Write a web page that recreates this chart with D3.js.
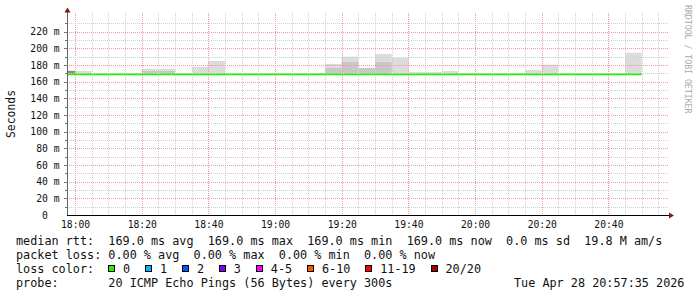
<!DOCTYPE html>
<html>
<head>
<meta charset="utf-8">
<style>
body{margin:0;background:#fff;}
text{font-family:"DejaVu Sans Mono",monospace;white-space:pre;}
</style>
</head>
<body>
<div id="chart"></div>
<script src="https://d3js.org/d3.v7.min.js"></script>
<script>
// 5 minute steps, values in ms
var binStarts = ["17:55","18:00","18:05","18:10","18:15","18:20","18:25","18:30","18:35","18:40",
  "18:45","18:50","18:55","19:00","19:05","19:10","19:15","19:20","19:25","19:30",
  "19:35","19:40","19:45","19:50","19:55","20:00","20:05","20:10","20:15","20:20",
  "20:25","20:30","20:35","20:40","20:45"];
var medians = [169,169,169,169,169,169,169,169,169,169,
  169,169,169,169,169,169,169,169,169,169,
  169,169,169,169,169,169,169,169,169,169,
  169,169,169,169,169];
var smokeHi = [173.6,172.8,null,null,null,175.2,175.2,null,177.6,184.8,
  null,null,null,null,null,null,181.2,190,176.4,193.2,
  188.4,171.6,171.6,172.8,null,null,null,null,174,180.4,
  null,null,null,null,194.8];
var smokeMid = [172.8,null,null,null,null,172.8,172.8,null,null,null,
  null,null,null,null,null,null,176.4,183.6,176.4,183.6,
  null,null,null,null,null,null,null,null,null,null,
  null,null,null,null,null];
var smokeDark = [172.8,null,null,null,null,null,null,null,null,null,
  null,null,null,null,null,null,null,null,null,null,
  null,null,null,null,null,null,null,null,null,null,
  null,null,null,null,null];
var yTicks = [0,20,40,60,80,100,120,140,160,180,200,220];
var xTicks = ["18:00","18:20","18:40","19:00","19:20","19:40","20:00","20:20","20:40"];
var lossLabels = ["0","1","2","3","4-5","6-10","11-19","20/20"];
var lossColors = ["#28f000","#00b8ff","#0059ff","#7e00ff","#ff00ff","#ff5500","#ff0000","#a10000"];
var statLines = [
  "median rtt:  169.0 ms avg  169.0 ms max  169.0 ms min  169.0 ms now  0.0 ms sd  19.8 M am/s",
  "packet loss: 0.00 % avg  0.00 % max  0.00 % min  0.00 % now",
  "loss color:",
  "probe:       20 ICMP Echo Pings (56 Bytes) every 300s"
];
var dateLabel = "Tue Apr 28 20:57:35 2026";

var W = 697, H = 297;
var gLeft = 67, gRight = 667, gTop = 15, gBottom = 215;
var parse = d3.timeParse("%H:%M");
var parseS = d3.timeParse("%H:%M:%S");

var svg = d3.select("#chart").append("svg").attr("width", W).attr("height", H);
svg.append("rect").attr("width", W).attr("height", H).attr("fill", "#fff");

var x = d3.scaleTime()
  .domain([parseS("17:57:35"), parseS("20:57:35")])
  .range([gLeft, gRight]);
var y = d3.scaleLinear().domain([0, 240]).range([gBottom, gTop]);

svg.append("clipPath").attr("id", "clip")
  .append("rect").attr("x", gLeft).attr("y", gTop).attr("width", gRight - gLeft).attr("height", gBottom - gTop);

var plot = svg.append("g").attr("clip-path", "url(#clip)");

// smoke
function smokeLayer(vals, color){
  plot.selectAll(null).data(binStarts.map(function(b, i){ return {t: parse(b), hi: vals[i], lo: medians[i]}; })
      .filter(function(d){ return d.hi != null; }))
    .enter().append("rect")
    .attr("x", function(d){ return x(d.t); })
    .attr("width", function(d){ return x(d3.timeMinute.offset(d.t, 5)) - x(d.t); })
    .attr("y", function(d){ return y(d.hi); })
    .attr("height", function(d){ return y(d.lo) - y(d.hi); })
    .attr("fill", color);
}
smokeLayer(smokeHi, "#dcdcdc");
smokeLayer(smokeMid, "#c8c8c8");
smokeLayer(smokeDark, "#8a8a8a");

// grid
var grid = svg.append("g");
x.ticks(d3.timeMinute.every(5)).forEach(function(t){
  var major = t.getMinutes() % 20 == 0;
  grid.append("line")
    .attr("x1", Math.round(x(t)) + 0.5).attr("x2", Math.round(x(t)) + 0.5)
    .attr("y1", 13).attr("y2", gBottom)
    .attr("stroke", major ? "#eb9b9b" : "#cfcfcf")
    .attr("stroke-dasharray", "1,1");
});
d3.range(10, 240, 10).forEach(function(v){
  var major = v % 20 == 0;
  grid.append("line")
    .attr("x1", gLeft).attr("x2", 669)
    .attr("y1", Math.round(y(v)) + 0.5).attr("y2", Math.round(y(v)) + 0.5)
    .attr("stroke", major ? "#eb9b9b" : "#cfcfcf")
    .attr("stroke-dasharray", "1,1");
  svg.append("line")
    .attr("x1", major ? 64 : 65).attr("x2", gLeft)
    .attr("y1", Math.round(y(v)) + 0.5).attr("y2", Math.round(y(v)) + 0.5)
    .attr("stroke", "#777");
});

// median line
var medPts = binStarts.map(function(b, i){ return [parse(b), medians[i]]; });
medPts.push([d3.timeMinute.offset(parse(binStarts[binStarts.length - 1]), 5), medians[medians.length - 1]]);
plot.append("path")
  .attr("d", d3.line().curve(d3.curveStepAfter)
    .x(function(d){ return x(d[0]); })
    .y(function(d){ return y(d[1]); })(medPts))
  .attr("fill", "none")
  .attr("stroke", lossColors[0])
  .attr("stroke-width", 2);

// axes lines + arrows
svg.append("line").attr("x1", gLeft + 0.5).attr("x2", gLeft + 0.5).attr("y1", 12).attr("y2", gBottom + 0.5)
  .attr("stroke", "#666");
svg.append("line").attr("x1", gLeft).attr("x2", 670).attr("y1", gBottom + 0.5).attr("y2", gBottom + 0.5)
  .attr("stroke", "#000");
svg.append("path").attr("d", "M64.5,12.5 L70.5,12.5 L67.5,7.5 Z").attr("fill", "#7f1b1b");
svg.append("path").attr("d", "M669,212.5 L669,218.5 L674,215.5 Z").attr("fill", "#7f1b1b");

// tick labels
var yAxis = svg.append("g").attr("transform", "translate(" + gLeft + ",0)")
  .call(d3.axisLeft(y).tickValues(yTicks).tickSize(0).tickPadding(7.5)
    .tickFormat(function(v){ return v ? v + " m" : "0  "; }));
var xAxis = svg.append("g").attr("transform", "translate(0," + gBottom + ")")
  .call(d3.axisBottom(x).tickValues(xTicks.map(parse)).tickSize(0).tickPadding(6)
    .tickFormat(d3.timeFormat("%H:%M")));
[yAxis, xAxis].forEach(function(a){
  a.select(".domain").remove();
  a.selectAll("text").attr("font-family", "DejaVu Sans Mono").attr("font-size", "9.7px").attr("fill", "#111");
});

// axis title + watermark
svg.append("text").attr("transform", "translate(14.5,114) rotate(-90)")
  .attr("text-anchor", "middle").attr("font-size", "11.4px").attr("fill", "#111").text("Seconds");
svg.append("text").attr("transform", "translate(684.5,5) rotate(90)")
  .attr("font-size", "8.2px").attr("fill", "#aaa").text("RRDTOOL / TOBI OETIKER");

// legend
var fs = 11.8;
var baseY = [245, 259, 273, 287];
statLines.forEach(function(s, i){
  svg.append("text").attr("x", 16).attr("y", baseY[i]).attr("font-size", fs + "px").attr("fill", "#111").text(s);
});
svg.append("text").attr("x", 514).attr("y", baseY[3]).attr("font-size", fs + "px").attr("fill", "#111").text(dateLabel);

var probe = svg.append("text").attr("font-size", fs + "px").text("0123456789");
var cw = probe.node().getComputedTextLength() / 10;
probe.remove();

var lx = 16 + 12.97 * cw;
lossLabels.forEach(function(lbl, i){
  svg.append("rect").attr("x", Math.round(lx) + 0.5).attr("y", 265.5).attr("width", 6).attr("height", 6)
    .attr("fill", lossColors[i]).attr("stroke", "#000");
  var tx = lx + 2.1 * cw;
  svg.append("text").attr("x", tx).attr("y", baseY[2]).attr("font-size", fs + "px").attr("fill", "#111").text(lbl);
  lx = tx + lbl.length * cw + 2.1 * cw;
});
</script>
</body>
</html>
